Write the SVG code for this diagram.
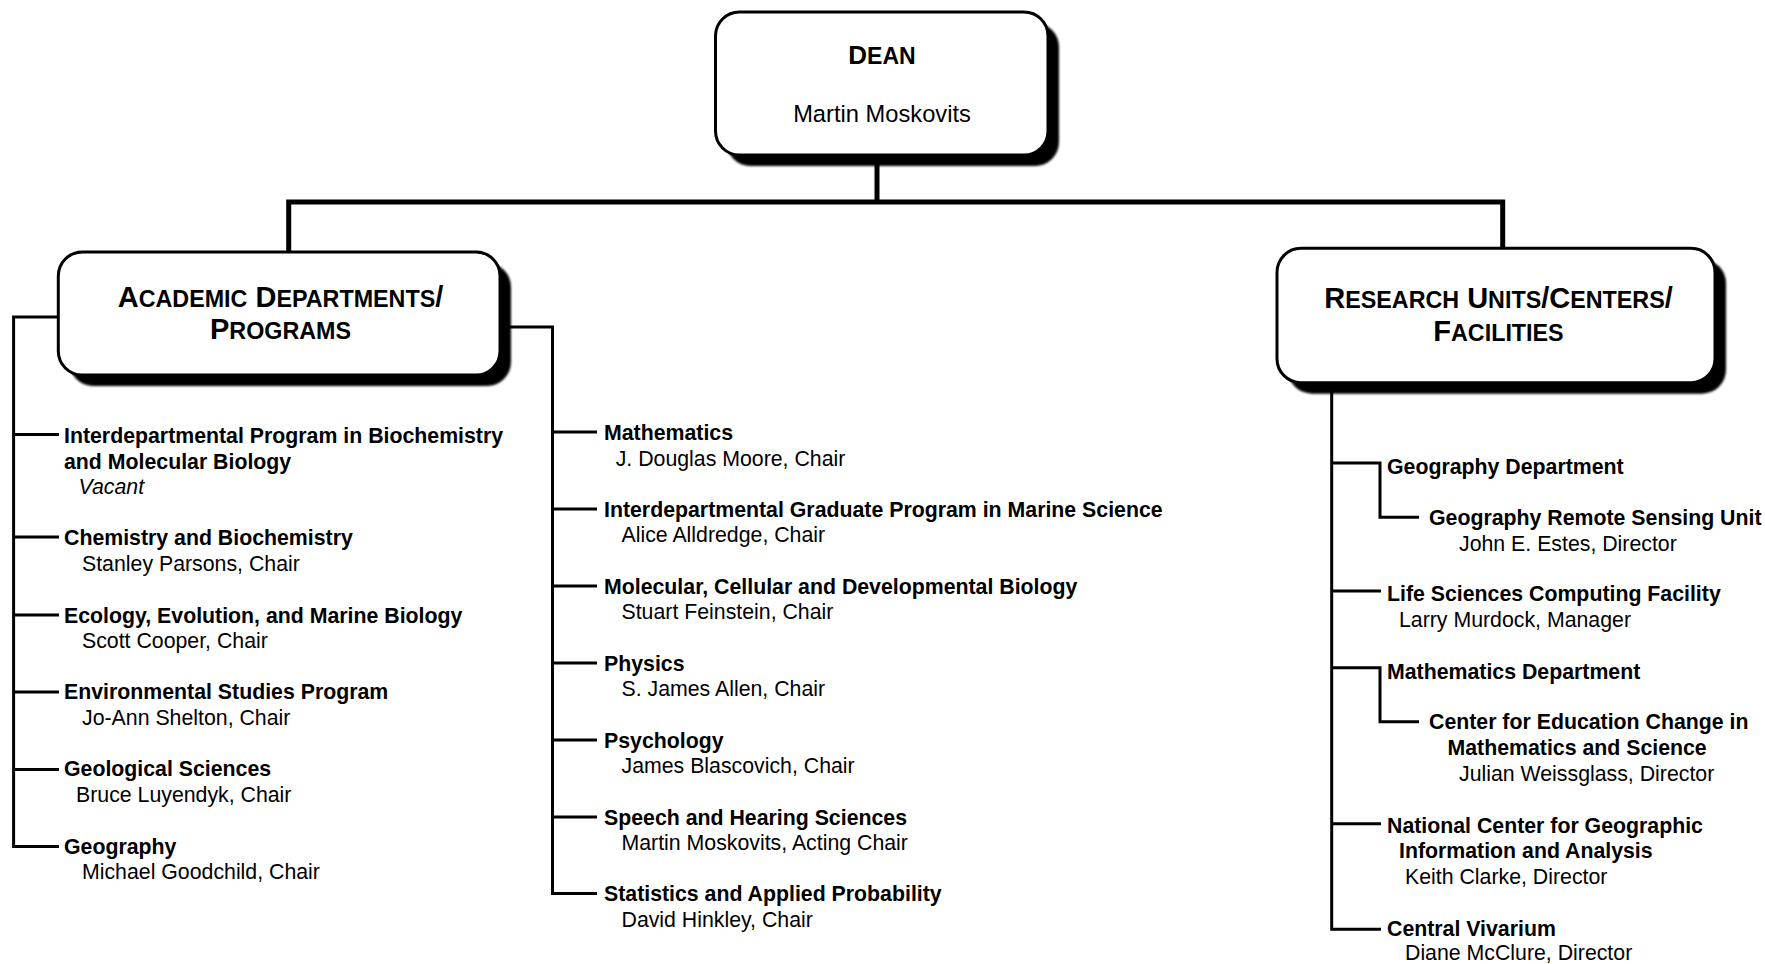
<svg xmlns="http://www.w3.org/2000/svg" width="1765" height="964" viewBox="0 0 1765 964">
<style>
.box{fill:#fff;stroke:#000;stroke-width:3}
.sh{fill:#000}
.thick{fill:none;stroke:#000;stroke-width:5;stroke-linejoin:miter;stroke-linecap:butt}
.thin{fill:none;stroke:#000;stroke-width:3;stroke-linejoin:miter;stroke-linecap:butt}
text{font-family:"Liberation Sans",Arial,sans-serif;fill:#000}
.b{font-weight:bold;font-size:21.3px}
.r{font-size:21.3px}
.i{font-size:21.3px;font-style:italic}
.h{font-weight:bold;text-anchor:middle}
.big{font-size:29px}
.sm{font-size:23.3px}
</style>
<defs>
<filter id="blur" x="-5%" y="-5%" width="110%" height="110%"><feGaussianBlur stdDeviation="1.2"/></filter>
</defs>

<g id="connectors">
<path class="thick" d="M877,155 V202"/>
<path class="thick" d="M288.7,252 V202 H1502.7 V248"/>
<path class="thin" d="M58,317 H13.6 V846.5 H59"/>
<path class="thin" d="M13.6,434.5 H59 M13.6,537 H59 M13.6,615 H59 M13.6,692 H59 M13.6,769.5 H59"/>
<path class="thin" d="M500,327 H552.5 V893.5 H597"/>
<path class="thin" d="M552.5,432 H597 M552.5,509 H597 M552.5,586 H597 M552.5,663 H597 M552.5,740 H597 M552.5,817 H597"/>
<path class="thin" d="M1331.7,383 V929.3 H1381"/>
<path class="thin" d="M1331.7,463.1 H1380 V517.2 H1419 M1331.7,591.1 H1381 M1331.7,667.8 H1380 V721.8 H1419 M1331.7,823.7 H1381"/>
</g>

<g id="dean">
<rect class="sh" x="726.5" y="23" width="332.5" height="143" rx="24" filter="url(#blur)"/>
<rect class="box" x="715.5" y="12" width="332.5" height="143" rx="24"/>
<text class="h" x="882" y="64"><tspan font-size="26">D</tspan><tspan font-size="23">EAN</tspan></text>
<text x="882" y="122.3" text-anchor="middle" font-size="23.7">Martin Moskovits</text>
</g>

<g id="academic">
<rect class="sh" x="69.3" y="263" width="441.7" height="123" rx="24" filter="url(#blur)"/>
<rect class="box" x="58.3" y="252" width="441.7" height="123" rx="24"/>
<text class="h" x="280.5" y="307.3"><tspan class="big">A</tspan><tspan class="sm">CADEMIC</tspan><tspan class="big"> D</tspan><tspan class="sm">EPARTMENTS</tspan><tspan class="big">/</tspan></text>
<text class="h" x="280.5" y="338.5"><tspan class="big">P</tspan><tspan class="sm">ROGRAMS</tspan></text>
</g>

<g id="research">
<rect class="sh" x="1288" y="259.3" width="438" height="134.4" rx="24" filter="url(#blur)"/>
<rect class="box" x="1277" y="248.3" width="438" height="134.4" rx="24"/>
<text class="h" x="1498.5" y="308.3"><tspan class="big">R</tspan><tspan class="sm">ESEARCH</tspan><tspan class="big"> U</tspan><tspan class="sm">NITS</tspan><tspan class="big">/C</tspan><tspan class="sm">ENTERS</tspan><tspan class="big">/</tspan></text>
<text class="h" x="1498.5" y="340.7"><tspan class="big">F</tspan><tspan class="sm">ACILITIES</tspan></text>
</g>

<g id="left-items">
<g id="biochem"><text class="b" x="64" y="443">Interdepartmental Program in Biochemistry</text><text class="b" x="64" y="468.5">and Molecular Biology</text><text class="i" x="78.6" y="493.5">Vacant</text></g>
<g id="chem"><text class="b" x="64" y="545">Chemistry and Biochemistry</text><text class="r" x="82" y="570.5">Stanley Parsons, Chair</text></g>
<g id="eemb"><text class="b" x="64" y="622.5">Ecology, Evolution, and Marine Biology</text><text class="r" x="82" y="648">Scott Cooper, Chair</text></g>
<g id="envs"><text class="b" x="64" y="699">Environmental Studies Program</text><text class="r" x="82" y="724.5">Jo-Ann Shelton, Chair</text></g>
<g id="geol"><text class="b" x="64" y="776">Geological Sciences</text><text class="r" x="76" y="801.5">Bruce Luyendyk, Chair</text></g>
<g id="geog"><text class="b" x="64" y="853.5">Geography</text><text class="r" x="82" y="879">Michael Goodchild, Chair</text></g>
</g>

<g id="middle-items">
<g id="math"><text class="b" x="604" y="440">Mathematics</text><text class="r" x="615.7" y="465.5">J. Douglas Moore, Chair</text></g>
<g id="marine"><text class="b" x="604" y="516.5">Interdepartmental Graduate Program in Marine Science</text><text class="r" x="621.5" y="542">Alice Alldredge, Chair</text></g>
<g id="mcdb"><text class="b" x="604" y="593.5">Molecular, Cellular and Developmental Biology</text><text class="r" x="621.5" y="619">Stuart Feinstein, Chair</text></g>
<g id="phys"><text class="b" x="604" y="670.5">Physics</text><text class="r" x="621.5" y="696">S. James Allen, Chair</text></g>
<g id="psych"><text class="b" x="604" y="747.5">Psychology</text><text class="r" x="621.5" y="773">James Blascovich, Chair</text></g>
<g id="speech"><text class="b" x="604" y="824.5">Speech and Hearing Sciences</text><text class="r" x="621.5" y="850">Martin Moskovits, Acting Chair</text></g>
<g id="stats"><text class="b" x="604" y="901">Statistics and Applied Probability</text><text class="r" x="621.5" y="926.5">David Hinkley, Chair</text></g>
</g>

<g id="right-items">
<g id="geodept"><text class="b" x="1387" y="474">Geography Department</text></g>
<g id="grsu"><text class="b" x="1429" y="524.5">Geography Remote Sensing Unit</text><text class="r" x="1459" y="550.5">John E. Estes, Director</text></g>
<g id="lscf"><text class="b" x="1387" y="601">Life Sciences Computing Facility</text><text class="r" x="1399" y="627">Larry Murdock, Manager</text></g>
<g id="mathdept"><text class="b" x="1387" y="678.5">Mathematics Department</text></g>
<g id="cecms"><text class="b" x="1429" y="729">Center for Education Change in</text><text class="b" x="1447.5" y="755">Mathematics and Science</text><text class="r" x="1459" y="781">Julian Weissglass, Director</text></g>
<g id="ncgia"><text class="b" x="1387" y="833">National Center for Geographic</text><text class="b" x="1399" y="858">Information and Analysis</text><text class="r" x="1405" y="883.5">Keith Clarke, Director</text></g>
<g id="vivarium"><text class="b" x="1387" y="935.5">Central Vivarium</text><text class="r" x="1405" y="960">Diane McClure, Director</text></g>
</g>
</svg>
